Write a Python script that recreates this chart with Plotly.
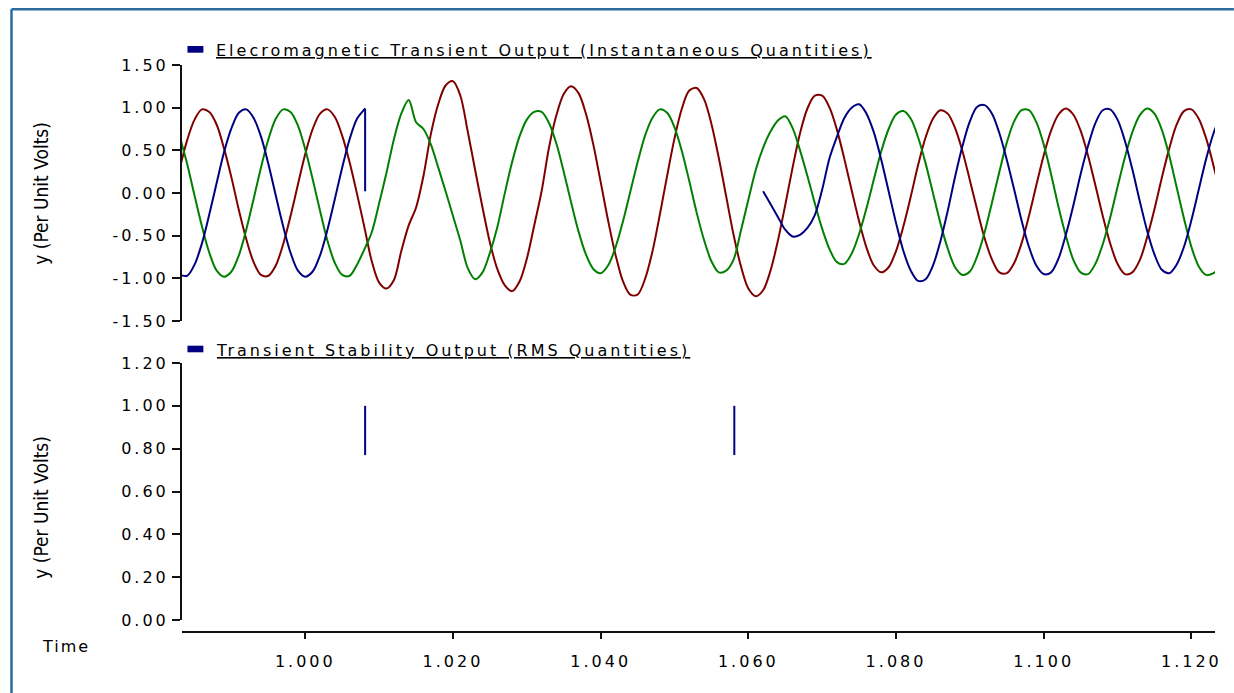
import plotly.graph_objects as go

# ---------------- data ----------------
time = [
    0.983, 0.984, 0.985, 0.986, 0.987, 0.988, 0.989, 0.990, 0.991, 0.992,
    0.993, 0.994, 0.995, 0.996, 0.997, 0.998, 0.999, 1.000, 1.001, 1.002,
    1.003, 1.004, 1.005, 1.006, 1.007, 1.008, 1.009, 1.010, 1.011, 1.012,
    1.013, 1.014, 1.015, 1.016, 1.017, 1.018, 1.019, 1.020, 1.021, 1.022,
    1.023, 1.024, 1.025, 1.026, 1.027, 1.028, 1.029, 1.030, 1.031, 1.032,
    1.033, 1.034, 1.035, 1.036, 1.037, 1.038, 1.039, 1.040, 1.041, 1.042,
    1.043, 1.044, 1.045, 1.046, 1.047, 1.048, 1.049, 1.050, 1.051, 1.052,
    1.053, 1.054, 1.055, 1.056, 1.057, 1.058, 1.059, 1.060, 1.061, 1.062,
    1.063, 1.064, 1.065, 1.066, 1.067, 1.068, 1.069, 1.070, 1.071, 1.072,
    1.073, 1.074, 1.075, 1.076, 1.077, 1.078, 1.079, 1.080, 1.081, 1.082,
    1.083, 1.084, 1.085, 1.086, 1.087, 1.088, 1.089, 1.090, 1.091, 1.092,
    1.093, 1.094, 1.095, 1.096, 1.097, 1.098, 1.099, 1.100, 1.101, 1.102,
    1.103, 1.104, 1.105, 1.106, 1.107, 1.108, 1.109, 1.110, 1.111, 1.112,
    1.113, 1.114, 1.115, 1.116, 1.117, 1.118, 1.119, 1.120, 1.121, 1.122,
    1.123, 1.124,
]

phase_red = [
    0.29, 0.62, 0.86, 0.98, 0.95, 0.80, 0.52, 0.18, -0.20, -0.54,
    -0.81, -0.96, -0.97, -0.85, -0.60, -0.27, 0.10, 0.46, 0.75, 0.93,
    0.98, 0.89, 0.67, 0.36, -0.01, -0.40, -0.80, -1.05, -1.12, -1.02,
    -0.68, -0.38, -0.17, 0.20, 0.69, 1.04, 1.26, 1.31, 1.14, 0.72,
    0.27, -0.17, -0.58, -0.89, -1.08, -1.15, -1.04, -0.77, -0.38, 0.02,
    0.53, 0.91, 1.16, 1.25, 1.17, 0.93, 0.57, 0.13, -0.32, -0.72,
    -1.03, -1.19, -1.19, -1.01, -0.69, -0.26, 0.20, 0.64, 0.99, 1.20,
    1.23, 1.10, 0.81, 0.41, -0.04, -0.49, -0.86, -1.12, -1.21, -1.14,
    -0.91, -0.56, -0.14, 0.30, 0.70, 0.99, 1.14, 1.14, 1.00, 0.74,
    0.40, 0.03, -0.33, -0.64, -0.85, -0.93, -0.87, -0.68, -0.39, -0.04,
    0.33, 0.65, 0.87, 0.97, 0.93, 0.76, 0.49, 0.15, -0.20, -0.53,
    -0.78, -0.93, -0.94, -0.82, -0.59, -0.27, 0.09, 0.44, 0.73, 0.92,
    0.99, 0.92, 0.73, 0.44, 0.09, -0.27, -0.59, -0.83, -0.95, -0.93,
    -0.79, -0.52, -0.19, 0.18, 0.52, 0.80, 0.96, 0.98, 0.87, 0.64,
    0.32, -0.04,
]

phase_green = [
    0.66, 0.34, -0.03, -0.39, -0.70, -0.91, -0.98, -0.92, -0.73, -0.43,
    -0.07, 0.30, 0.63, 0.87, 0.98, 0.95, 0.79, 0.51, 0.16, -0.21,
    -0.56, -0.82, -0.96, -0.97, -0.84, -0.66, -0.46, -0.12, 0.24, 0.63,
    0.93, 1.09, 0.83, 0.75, 0.57, 0.30, 0.02, -0.27, -0.56, -0.88,
    -1.01, -0.93, -0.70, -0.40, -0.01, 0.36, 0.66, 0.86, 0.95, 0.95,
    0.82, 0.58, 0.25, -0.11, -0.45, -0.72, -0.89, -0.94, -0.85, -0.64,
    -0.34, 0.01, 0.36, 0.67, 0.88, 0.98, 0.94, 0.77, 0.49, 0.14,
    -0.23, -0.55, -0.80, -0.93, -0.91, -0.78, -0.44, -0.08, 0.27, 0.53,
    0.72, 0.85, 0.90, 0.76, 0.50, 0.20, -0.12, -0.42, -0.66, -0.81,
    -0.83, -0.71, -0.48, -0.18, 0.16, 0.49, 0.75, 0.92, 0.96, 0.87,
    0.65, 0.35, 0.00, -0.35, -0.65, -0.87, -0.96, -0.92, -0.74, -0.46,
    -0.11, 0.25, 0.59, 0.84, 0.97, 0.97, 0.83, 0.57, 0.22, -0.16,
    -0.50, -0.78, -0.93, -0.95, -0.83, -0.60, -0.29, 0.07, 0.42, 0.71,
    0.91, 0.99, 0.93, 0.74, 0.44, 0.07, -0.30, -0.63, -0.86, -0.96,
    -0.94, -0.85,
]

# blue phase: before the fault (time[0:26]) and after it reappears (from 1.062)
phase_blue_before = [
    -0.96, -0.97, -0.84, -0.59, -0.25, 0.12, 0.48, 0.76, 0.94, 0.98,
    0.88, 0.66, 0.34, -0.03, -0.39, -0.70, -0.91, -0.98, -0.92, -0.73,
    -0.43, -0.07, 0.30, 0.63, 0.87, 0.98,
]
fault_time = 1.0081
phase_blue_at_fault = [0.99, 0.02]
phase_blue_after = [
    0.02, -0.13, -0.28, -0.43, -0.51, -0.49, -0.41, -0.26, 0.04, 0.41,
    0.66, 0.88, 1.00, 1.04, 0.93, 0.71, 0.39, 0.02, -0.35, -0.68,
    -0.91, -1.03, -1.01, -0.85, -0.57, -0.21, 0.19, 0.55, 0.84, 1.01,
    1.03, 0.93, 0.70, 0.39, 0.04, -0.32, -0.63, -0.85, -0.95, -0.93,
    -0.77, -0.49, -0.15, 0.22, 0.55, 0.82, 0.97, 0.98, 0.86, 0.61,
    0.28, -0.09, -0.44, -0.72, -0.90, -0.94, -0.84, -0.63, -0.32, 0.04,
    0.40, 0.70, 0.91,
]

rms_time = [1.0081, 1.0081, None, 1.0581, 1.0581]
rms_values = [1.00, 0.77, None, 1.00, 0.77]

x_ticks = [1.000, 1.020, 1.040, 1.060, 1.080, 1.100, 1.120]
x_labels = ["1.000", "1.020", "1.040", "1.060", "1.080", "1.100", "1.120"]
y1_ticks = [-1.5, -1.0, -0.5, 0.0, 0.5, 1.0, 1.5]
y1_labels = ["-1.50", "-1.00", "-0.50", "0.00", "0.50", "1.00", "1.50"]
y2_ticks = [0.0, 0.2, 0.4, 0.6, 0.8, 1.0, 1.2]
y2_labels = ["0.00", "0.20", "0.40", "0.60", "0.80", "1.00", "1.20"]

legend_top = "Elecromagnetic Transient Output (Instantaneous Quantities)"
legend_bottom = "Transient Stability Output (RMS Quantities)"
y_title = "y (Per Unit Volts)"
x_title = "Time"

# ---------------- styling ----------------
RED = "#800000"
GREEN = "#008000"
BLUE = "#000080"
FONT = "DejaVu Sans"
NARROW = "Liberation Sans Narrow, DejaVu Sans Condensed, Liberation Sans, Arial"
BORDER = "#2b6c9e"


def spaced(s, px=3):
    return f"<span style='letter-spacing:{px}px'>{s}</span>"


i_fault = time.index(1.008) + 1
i_back = time.index(1.062)

fig = go.Figure()
wave_line = dict(width=2, shape="spline", smoothing=0.9)
fig.add_trace(go.Scatter(x=time, y=phase_red, mode="lines",
                         line=dict(color=RED, **wave_line), xaxis="x", yaxis="y"))
fig.add_trace(go.Scatter(x=time, y=phase_green, mode="lines",
                         line=dict(color=GREEN, **wave_line), xaxis="x", yaxis="y"))
blue_x = time[:i_fault] + [fault_time, None] + time[i_back:]
blue_y = phase_blue_before + phase_blue_at_fault[:1] + [None] + phase_blue_after
fig.add_trace(go.Scatter(x=blue_x, y=blue_y, mode="lines", connectgaps=False,
                         line=dict(color=BLUE, **wave_line), xaxis="x", yaxis="y"))
fig.add_trace(go.Scatter(x=[fault_time, fault_time], y=phase_blue_at_fault, mode="lines",
                         line=dict(color=BLUE, width=2), xaxis="x", yaxis="y"))
fig.add_trace(go.Scatter(x=rms_time, y=rms_values, mode="lines", connectgaps=False,
                         line=dict(color=BLUE, width=2), xaxis="x2", yaxis="y2"))

W, H = 1234, 693
L, R, T, B = 182, 13, 65, 61
pw, ph = W - L - R, H - T - B


def px(xp):
    return (xp - L) / pw


def py(yp):
    return (H - B - yp) / ph


xrange_ = [0.9833, 1.1232]
tickfont = dict(family=FONT, size=16, color="#000")

fig.update_layout(
    width=W, height=H,
    margin=dict(l=L, r=R, t=T, b=B),
    paper_bgcolor="white", plot_bgcolor="white",
    showlegend=False,
    xaxis=dict(domain=[0, 1], anchor="y", range=xrange_, visible=False),
    xaxis2=dict(domain=[0, 1], anchor="free", position=0, range=xrange_,
                showline=True, linecolor="#111", linewidth=2,
                ticks="outside", ticklen=6, tickwidth=2, tickcolor="#111",
                tickvals=x_ticks, ticktext=[spaced(s) for s in x_labels],
                ticklabelstandoff=9,
                tickfont=tickfont, showgrid=False, zeroline=False),
    yaxis=dict(domain=[py(321), 1], anchor="x", range=[-1.5, 1.5],
               showline=True, linecolor="#111", linewidth=2,
               ticks="outside", ticklen=8, tickwidth=2, tickcolor="#111",
               tickvals=y1_ticks, ticktext=[spaced(s) for s in y1_labels],
               tickfont=tickfont, showgrid=False, zeroline=False),
    yaxis2=dict(domain=[py(620), py(363)], anchor="x2", range=[0, 1.2],
                showline=True, linecolor="#111", linewidth=2,
                ticks="outside", ticklen=8, tickwidth=2, tickcolor="#111",
                tickvals=y2_ticks, ticktext=[spaced(s) for s in y2_labels],
                tickfont=tickfont, showgrid=False, zeroline=False),
)

shapes = [
    # outer frame (left and top edges visible)
    dict(type="line", xref="paper", yref="paper", x0=px(10.5), x1=px(10.5),
         y0=py(9.3), y1=py(700), line=dict(color=BORDER, width=2.5)),
    dict(type="line", xref="paper", yref="paper", x0=px(10.5), x1=px(1240),
         y0=py(9.3), y1=py(9.3), line=dict(color=BORDER, width=2.5)),
    # legend swatches
    dict(type="rect", xref="paper", yref="paper", x0=px(187.5), x1=px(203.5),
         y0=py(52.7), y1=py(46), fillcolor=BLUE, line=dict(width=0)),
    dict(type="rect", xref="paper", yref="paper", x0=px(187.5), x1=px(203.5),
         y0=py(352.3), y1=py(345.7), fillcolor=BLUE, line=dict(width=0)),
]

annotations = [
    dict(xref="paper", yref="paper", x=px(214), y=py(51), xanchor="left", yanchor="middle",
         text="<u>" + spaced(legend_top) + "</u>", showarrow=False,
         font=dict(family=FONT, size=16, color="#000")),
    dict(xref="paper", yref="paper", x=px(214), y=py(350), xanchor="left", yanchor="middle",
         text="<u>" + spaced(legend_bottom) + "</u>", showarrow=False,
         font=dict(family=FONT, size=16, color="#000")),
    dict(xref="paper", yref="paper", x=px(40), y=py(193), xanchor="center", yanchor="middle",
         text=y_title, textangle=-90, showarrow=False,
         font=dict(family=NARROW, size=19, color="#000")),
    dict(xref="paper", yref="paper", x=px(40), y=py(507), xanchor="center", yanchor="middle",
         text=y_title, textangle=-90, showarrow=False,
         font=dict(family=NARROW, size=19, color="#000")),
    dict(xref="paper", yref="paper", x=px(65), y=py(646), xanchor="center", yanchor="middle",
         text=spaced(x_title, 2), showarrow=False,
         font=dict(family=FONT, size=16, color="#000")),
]

fig.update_layout(shapes=shapes, annotations=annotations)

fig.write_html("out.html", config={"displayModeBar": False},
               post_script="document.body.style.margin='0';document.body.style.overflow='hidden';")
